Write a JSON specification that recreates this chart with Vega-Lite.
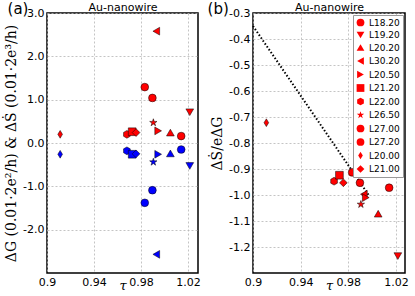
{
  "$schema": "https://vega.github.io/schema/vega-lite/v6.json",
  "padding": {"left": 3, "top": 0, "right": 2, "bottom": 0},
  "background": "white",
  "datasets": {
    "pts": [
      {"label": "L20.00", "tau": 0.9112, "dS": 0.20, "dG": -0.26, "ratio": -0.722},
      {"label": "L22.00", "tau": 0.9680, "dS": 0.20, "dG": -0.18, "ratio": -0.947},
      {"label": "L21.20", "tau": 0.9725, "dS": 0.26, "dG": -0.26, "ratio": -0.924},
      {"label": "L21.00", "tau": 0.9758, "dS": 0.24, "dG": -0.25, "ratio": -0.953},
      {"label": "L27.00", "tau": 0.9832, "dS": 1.29, "dG": -1.38, "ratio": -0.913},
      {"label": "L27.20", "tau": 0.9897, "dS": 1.04, "dG": -1.09, "ratio": -0.953},
      {"label": "L26.50", "tau": 0.9905, "dS": 0.47, "dG": -0.44, "ratio": -1.036},
      {"label": "L30.20", "tau": 0.9930, "dS": 2.58, "dG": -2.57, "ratio": -0.997},
      {"label": "L20.50", "tau": 0.9946, "dS": 0.28, "dG": -0.26, "ratio": -1.010},
      {"label": "L20.20", "tau": 1.0050, "dS": 0.24, "dG": -0.24, "ratio": -1.072},
      {"label": "L18.20", "tau": 1.0142, "dS": 0.16, "dG": -0.15, "ratio": -0.972},
      {"label": "L19.20", "tau": 1.0215, "dS": 0.71, "dG": -0.53, "ratio": -1.235}
    ],
    "fit": [
      {"tau": 0.9, "ratio": -0.35},
      {"tau": 0.997, "ratio": -1.0}
    ]
  },
  "config": {
    "view": {"stroke": "black", "strokeWidth": 1.5},
    "axis": {
      "labelFont": "DejaVu Sans", "labelFontSize": 11, "labelColor": "black",
      "ticks": false, "domain": false, "labelPadding": 3,
      "labelFlush": false, "labelOverlap": false,
      "gridColor": "#b5b5b5", "gridDash": [2, 2], "gridWidth": 0.8,
      "titleFont": "DejaVu Serif", "titleFontWeight": "normal", "titleColor": "black"
    },
    "title": {"font": "DejaVu Sans", "fontWeight": "normal", "color": "black"},
    "legend": {
      "orient": "top-right", "fillColor": "white", "strokeColor": "#999999",
      "padding": 3, "offset": 2, "labelFont": "DejaVu Sans", "labelFontSize": 9,
      "labelColor": "black", "symbolSize": 60, "rowPadding": 2.5,
      "symbolFillColor": "#ff0000", "symbolStrokeColor": "black", "symbolStrokeWidth": 0.5
    }
  },
  "resolve": {"scale": {"shape": "independent"}, "legend": {"shape": "independent"}},
  "hconcat": [
    {
      "width": 151, "height": 260,
      "title": {"text": "(a)", "anchor": "start", "frame": "bounds", "fontSize": 15, "offset": -16, "dx": 3},
      "layer": [
        {
          "layer": [
            {
              "data": {"name": "pts"},
              "mark": {"type": "point", "filled": true, "size": 60, "stroke": "black", "strokeWidth": 0.5, "opacity": 1, "fill": "#ff0000"},
              "encoding": {
                "x": {"field": "tau", "type": "quantitative", "scale": {"domain": [0.9, 1.0285], "zero": false, "nice": false},
                  "axis": {"values": [0.9, 0.94, 0.98, 1.02], "labelOverlap": false, "labelFlush": false, "labelExpr": "datum.value < 0.91 ? '0.9' : format(datum.value, '.2f')", "title": "τ", "titleFontStyle": "italic", "titleFontSize": 13, "titlePadding": -8}},
                "y": {"field": "dS", "type": "quantitative", "scale": {"domain": [-3, 3], "nice": false, "zero": false},
                  "axis": {"values": [-2, -1, 0, 1, 2, 3], "labelOverlap": false, "labelFlush": false, "labelExpr": "replace(format(datum.value, '.1f'), '\u2212', '-')", "title": "ΔG (0.01·2e²/h) & ΔṠ (0.01·2e³/h)", "titleFontSize": 14}},
                "shape": {"field": "label", "type": "nominal",
                  "scale": {"domain": ["L18.20", "L19.20", "L20.20", "L30.20", "L20.50", "L21.20", "L22.00", "L26.50", "L27.00", "L27.20", "L20.00", "L21.00"],
                    "range": ["circle", "triangle-down", "triangle-up", "triangle-left", "triangle-right", "square", "M0,-1L0.866,-0.5L0.866,0.5L0,1L-0.866,0.5L-0.866,-0.5Z", "M0,-1L0.2245,-0.309L0.951,-0.309L0.363,0.118L0.588,0.809L0,0.382L-0.588,0.809L-0.363,0.118L-0.951,-0.309L-0.2245,-0.309Z", "circle", "circle", "M0,-1L0.6,0L0,1L-0.6,0Z", "diamond"]},
                  "legend": null}
              }
            },
            {
              "data": {"name": "pts"},
              "mark": {"type": "point", "filled": true, "size": 60, "stroke": "black", "strokeWidth": 0.5, "opacity": 1, "fill": "#0000ff"},
              "encoding": {
                "x": {"field": "tau", "type": "quantitative", "scale": {"domain": [0.9, 1.0285], "zero": false, "nice": false},
                  "axis": {"values": [0.9, 0.94, 0.98, 1.02], "labelOverlap": false, "labelFlush": false, "labelExpr": "datum.value < 0.91 ? '0.9' : format(datum.value, '.2f')", "title": "τ", "titleFontStyle": "italic", "titleFontSize": 13, "titlePadding": -8}},
                "y": {"field": "dG", "type": "quantitative", "scale": {"domain": [-3, 3], "nice": false, "zero": false},
                  "axis": {"values": [-2, -1, 0, 1, 2, 3], "labelOverlap": false, "labelFlush": false, "labelExpr": "replace(format(datum.value, '.1f'), '\u2212', '-')", "title": "ΔG (0.01·2e²/h) & ΔṠ (0.01·2e³/h)", "titleFontSize": 14}},
                "shape": {"field": "label", "type": "nominal", "legend": null}
              }
            }
          ]
        },
        {
          "data": {"name": "pts"},
          "mark": {"type": "point", "opacity": 0},
          "encoding": {
            "x": {"field": "tau", "type": "quantitative", "scale": {"domain": [0.9, 1.0285], "zero": false, "nice": false},
              "axis": {"orient": "top", "labels": false, "grid": false, "title": "Au-nanowire", "titleFont": "DejaVu Sans", "titleFontSize": 11, "titlePadding": 1}}
          }
        }
      ],
      "resolve": {"axis": {"x": "independent"}}
    },
    {
      "width": 152, "height": 260,
      "title": {"text": "(b)", "anchor": "start", "frame": "bounds", "fontSize": 15, "offset": -16, "dx": -3},
      "layer": [
        {
          "layer": [
            {
              "data": {"name": "fit"},
              "mark": {"type": "line", "stroke": "black", "strokeWidth": 2, "strokeDash": [1.5, 2]},
              "encoding": {
                "x": {"field": "tau", "type": "quantitative", "scale": {"domain": [0.9, 1.0275], "zero": false, "nice": false},
                  "axis": {"values": [0.9, 0.94, 0.98, 1.02], "labelOverlap": false, "labelFlush": false, "labelExpr": "datum.value < 0.91 ? '0.9' : format(datum.value, '.2f')", "title": "τ", "titleFontStyle": "italic", "titleFontSize": 13, "titlePadding": -8}},
                "y": {"field": "ratio", "type": "quantitative", "scale": {"domain": [-1.3, -0.3], "nice": false, "zero": false},
                  "axis": {"values": [-1.2, -1.1, -1.0, -0.9, -0.8, -0.7, -0.6, -0.5, -0.4, -0.3], "labelOverlap": false, "labelFlush": false, "labelExpr": "replace(format(datum.value, '.1f'), '\u2212', '-')", "title": "ΔṠ/eΔG", "titleFontSize": 14}}
              }
            },
            {
              "data": {"name": "pts"},
              "mark": {"type": "point", "filled": true, "size": 60, "stroke": "black", "strokeWidth": 0.5, "opacity": 1, "fill": "#ff0000"},
              "encoding": {
                "x": {"field": "tau", "type": "quantitative", "scale": {"domain": [0.9, 1.0275], "zero": false, "nice": false},
                  "axis": {"values": [0.9, 0.94, 0.98, 1.02], "labelOverlap": false, "labelFlush": false, "labelExpr": "datum.value < 0.91 ? '0.9' : format(datum.value, '.2f')", "title": "τ", "titleFontStyle": "italic", "titleFontSize": 13, "titlePadding": -8}},
                "y": {"field": "ratio", "type": "quantitative", "scale": {"domain": [-1.3, -0.3], "nice": false, "zero": false},
                  "axis": {"values": [-1.2, -1.1, -1.0, -0.9, -0.8, -0.7, -0.6, -0.5, -0.4, -0.3], "labelOverlap": false, "labelFlush": false, "labelExpr": "replace(format(datum.value, '.1f'), '\u2212', '-')", "title": "ΔṠ/eΔG", "titleFontSize": 14}},
                "shape": {"field": "label", "type": "nominal", "title": null,
                  "scale": {"domain": ["L18.20", "L19.20", "L20.20", "L30.20", "L20.50", "L21.20", "L22.00", "L26.50", "L27.00", "L27.20", "L20.00", "L21.00"],
                    "range": ["circle", "triangle-down", "triangle-up", "triangle-left", "triangle-right", "square", "M0,-1L0.866,-0.5L0.866,0.5L0,1L-0.866,0.5L-0.866,-0.5Z", "M0,-1L0.2245,-0.309L0.951,-0.309L0.363,0.118L0.588,0.809L0,0.382L-0.588,0.809L-0.363,0.118L-0.951,-0.309L-0.2245,-0.309Z", "circle", "circle", "M0,-1L0.6,0L0,1L-0.6,0Z", "diamond"]}}
              }
            }
          ]
        },
        {
          "data": {"name": "pts"},
          "mark": {"type": "point", "opacity": 0},
          "encoding": {
            "x": {"field": "tau", "type": "quantitative", "scale": {"domain": [0.9, 1.0275], "zero": false, "nice": false},
              "axis": {"orient": "top", "labels": false, "grid": false, "title": "Au-nanowire", "titleFont": "DejaVu Sans", "titleFontSize": 11, "titlePadding": 1}}
          }
        }
      ],
      "resolve": {"axis": {"x": "independent"}}
    }
  ],
  "spacing": 55,
  "bounds": "flush"
}
